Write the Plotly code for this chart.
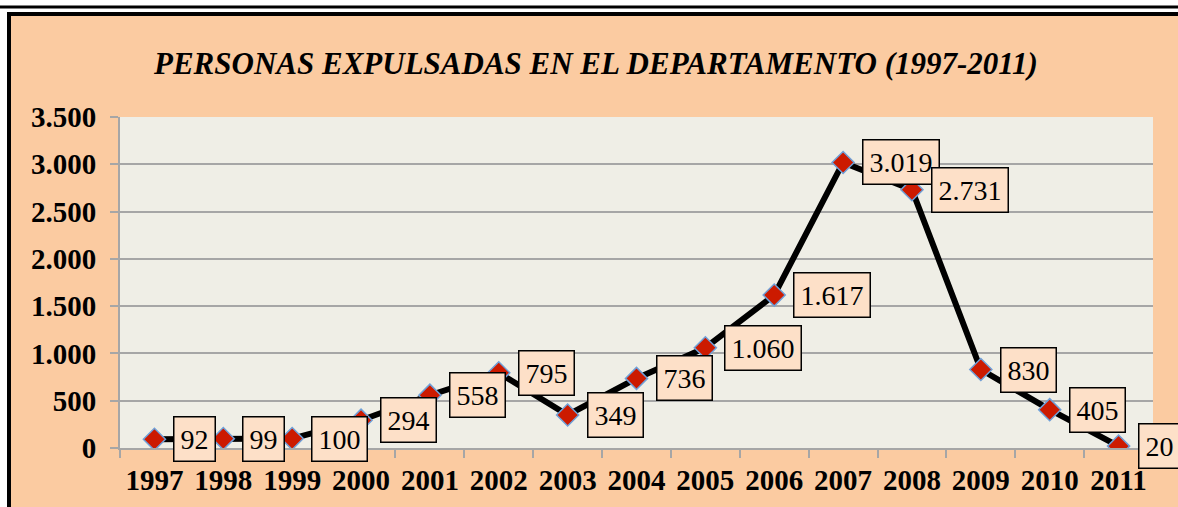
import plotly.graph_objects as go

years = ["1997", "1998", "1999", "2000", "2001", "2002", "2003", "2004",
         "2005", "2006", "2007", "2008", "2009", "2010", "2011"]
values = [92, 99, 100, 294, 558, 795, 349, 736, 1060, 1617, 3019, 2731, 830, 405, 20]
title_text = "PERSONAS EXPULSADAS EN EL DEPARTAMENTO (1997-2011)"

PEACH = "#FBCBA1"
LABEL_BG = "#FDE0C8"
PLOT_BG = "#EFEEE6"
GRID = "#A6A6A6"
FONT = "Liberation Serif"

W, H = 1178, 507
L, R, T, B = 120, 25, 117, 59
PW, PH = W - L - R, H - T - B


def fx(px):
    return (px - L) / PW


def fy(py):
    return (H - B - py) / PH


def fmt(v):
    return f"{v:,}".replace(",", ".")


fig = go.Figure()
fig.add_trace(go.Scatter(
    x=years, y=values, mode="lines+markers",
    line=dict(color="black", width=6),
    marker=dict(symbol="diamond", size=17, color="#CC1A00",
                line=dict(color="#6FA0D8", width=1.5)),
    hoverinfo="skip", showlegend=False,
))

for i, v in enumerate(values):
    fig.add_annotation(
        x=i, y=v, xref="x", yref="y", text=fmt(v), showarrow=False,
        xanchor="left", yanchor="middle", xshift=19,
        font=dict(family=FONT, size=28, color="black"),
        bgcolor=LABEL_BG, bordercolor="black", borderwidth=1.5, borderpad=6,
    )

fig.add_annotation(
    x=fx(595), y=fy(63), xref="paper", yref="paper", text=f"<b><i>{title_text}</i></b>",
    showarrow=False, xanchor="center", yanchor="middle",
    font=dict(family=FONT, size=31, color="black"),
)

# white surround and frame
fig.add_shape(type="rect", xref="paper", yref="paper", x0=fx(-50), x1=fx(W + 50),
              y0=fy(12), y1=fy(-50), fillcolor="white", line=dict(width=0), layer="above")
fig.add_shape(type="rect", xref="paper", yref="paper", x0=fx(-50), x1=fx(7),
              y0=fy(H + 50), y1=fy(-50), fillcolor="white", line=dict(width=0), layer="above")
fig.add_shape(type="line", xref="paper", yref="paper", x0=fx(-50), x1=fx(W + 50),
              y0=fy(7), y1=fy(7), line=dict(color="black", width=3), layer="above")
fig.add_shape(type="path", xref="paper", yref="paper",
              path=f"M {fx(9)},{fy(H + 50)} L {fx(9)},{fy(14)} L {fx(W + 50)},{fy(14)}",
              line=dict(color="black", width=4), layer="above")

fig.update_layout(
    width=W, height=H,
    margin=dict(l=L, r=R, t=T, b=B, autoexpand=False),
    paper_bgcolor=PEACH, plot_bgcolor=PLOT_BG,
    separators=",.",
    font=dict(family=FONT, color="black"),
    xaxis=dict(
        type="category", tickson="boundaries", ticks="outside", ticklen=8,
        tickcolor=GRID, tickwidth=2, showline=True, linecolor=GRID, linewidth=2,
        showgrid=False, tickfont=dict(family=FONT, size=29, color="black"),
        tickprefix="<b>", ticksuffix="</b>", range=[-0.5, 14.5],
        ticklabelstandoff=5,
    ),
    yaxis=dict(
        range=[0, 3500], dtick=500, tickformat=",d", ticks="outside", ticklen=8,
        tickcolor=GRID, tickwidth=2, showline=True, linecolor=GRID, linewidth=2,
        showgrid=True, gridcolor=GRID, gridwidth=2, zeroline=False,
        tickfont=dict(family=FONT, size=29, color="black"),
        tickprefix="<b>", ticksuffix="</b>", ticklabelstandoff=8,
    ),
)

fig.write_html("out.html", config={"displayModeBar": False},
               post_script="document.body.style.margin='0';document.body.style.overflow='hidden';")
